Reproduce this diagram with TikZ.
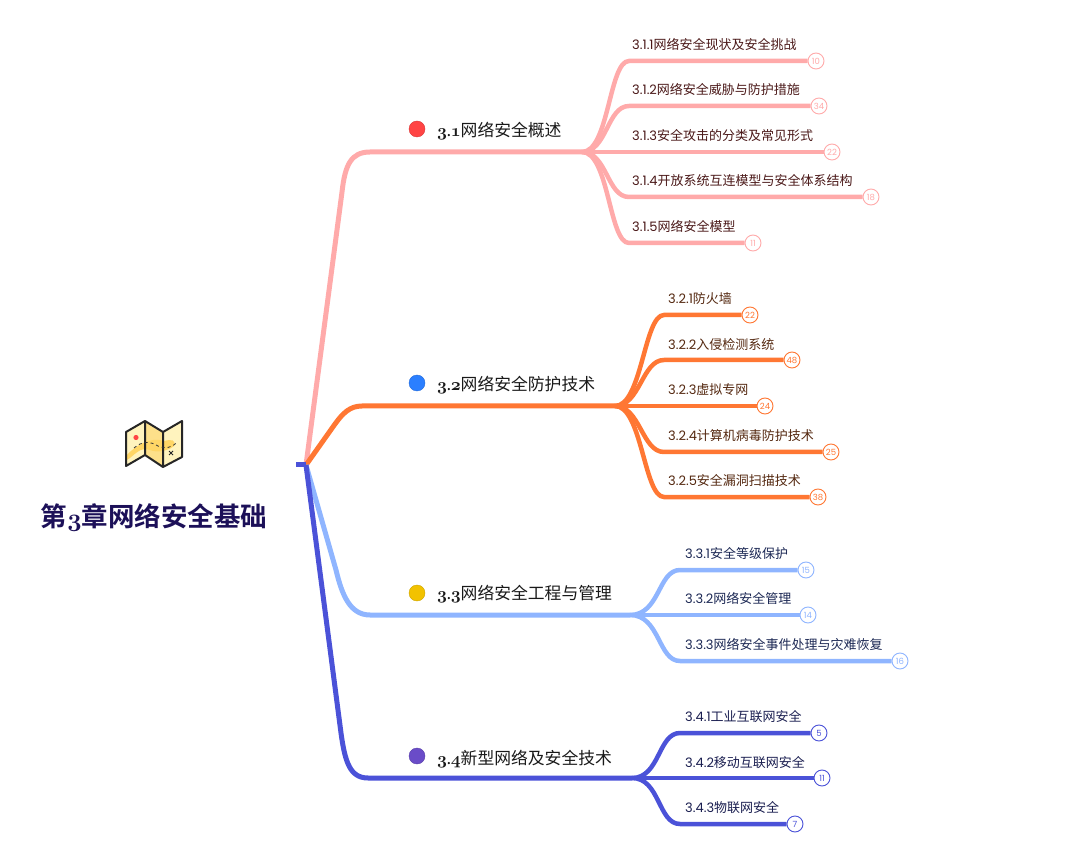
\documentclass[tikz,border=0pt]{standalone}
\usepackage{fontspec}
\setmainfont[BoldFont=Noto Sans CJK SC Bold]{Noto Sans CJK SC}
\newfontfamily\numfont{Poppins}
\definecolor{pinkbr}{HTML}{FFAAAA}
\definecolor{orangebr}{HTML}{FF7733}
\definecolor{bluebr}{HTML}{8FB5FF}
\definecolor{darkbr}{HTML}{4B52D8}
\definecolor{dotred}{HTML}{FF4444}
\definecolor{dotblue}{HTML}{2B7FFF}
\definecolor{dotyellow}{HTML}{F2C200}
\definecolor{dotpurple}{HTML}{6A4CC8}
\definecolor{titleink}{HTML}{1C1058}
\definecolor{pinkink}{HTML}{4A1818}
\definecolor{orangeink}{HTML}{542810}
\definecolor{blueink}{HTML}{1C2854}
\definecolor{darkink}{HTML}{1A1E50}
\definecolor{mappale}{HTML}{FFF3BE}
\definecolor{mapmid}{HTML}{FDE08A}
\definecolor{mapblob}{HTML}{FFD666}
\tikzset{
    secline/.style={line width=5pt, line join=round},
    leafline/.style={line width=4.5pt},
    sectext/.style={anchor=west, inner sep=0pt, yshift=-1.2pt, font=\fontsize{16.8}{18}\selectfont, text=black!90},
    leaftext/.style={anchor=west, inner sep=0pt, yshift=-0.7pt, font=\fontsize{13}{15}\selectfont},
    count/.style={circle, draw=#1, fill=white, line width=0.9pt, minimum size=16pt, inner sep=0pt, text=#1, font=\numfont\fontsize{8.5}{10}\selectfont},
    dot/.style={circle, fill=#1, draw=#1!85!black, line width=0.4pt, minimum size=16pt, inner sep=0pt},
}
\newcommand{\oldb}[1]{{\usefont{OML}{cmm}{b}{it}#1}}
\newcommand{\oldn}[2]{\oldb{#1}\kern-0.5pt.\kern-0.5pt\oldb{#2}}
\begin{document}
\begin{tikzpicture}[x=1pt, y=-1pt]
    \useasboundingbox (0,0) rectangle (1082,858);
    % map icon
    \fill[mappale] (126,432) -- (145,421) -- (163,432) -- (182,421) -- (182,457) -- (163,467) -- (145,455) -- (126,466) -- cycle;
    \fill[mapmid] (145,421) -- (163,432) -- (163,467) -- (145,455) -- cycle;
    \fill[mapblob] (127,455) .. controls (134,447) and (150,436) .. (164,441) .. controls (172,439) and (176,440) .. (174,446) .. controls (168,451) and (157,453) .. (150,450) .. controls (140,446) and (134,456) .. (127,460) -- cycle;
    \draw[line width=2pt, black!85, line join=round] (126,432) -- (145,421) -- (163,432) -- (182,421) -- (182,457) -- (163,467) -- (145,455) -- (126,466) -- cycle (145,421) -- (145,455) (163,432) -- (163,467);
    \fill[dotred] (136,437.5) circle (2.6pt);
    \draw[black!80, line width=0.8pt, dashed] (134,448) .. controls (142,441) and (150,441) .. (158,446) .. controls (165,449) and (172,448) .. (177,442);
    \draw[black!85, line width=1pt] (169,451) -- (173,455) (173,451) -- (169,455);
    \node[anchor=center, inner sep=0pt, font=\bfseries\fontsize{26.5}{28}\selectfont, text=titleink] (title) at (154,517) {第\oldb{3}章网络安全基础};

    % root and sections
    \coordinate (root) at (306,465);
    \coordinate (rootl) at (296,465);
    \coordinate (hub1) at (582,152);
    \coordinate (hub2) at (615,406);
    \coordinate (hub3) at (630,615);
    \coordinate (hub4) at (632,778);
    \draw[secline, pinkbr] (root) -- (342,192) .. controls (345,165) and (351,152) .. (370,152) -- (hub1);
    \draw[secline, orangebr] (root) -- (335,424) .. controls (343,413) and (350,406) .. (362,406) -- (hub2);
    \draw[secline, bluebr] (root) -- (336,570) .. controls (342,595) and (350,615) .. (370,615) -- (hub3);
    \draw[secline, darkbr] (root) -- (341,733) .. controls (345,762) and (350,778) .. (368,778) -- (hub4);
    \draw[line width=5pt, darkbr] (rootl) -- (root);

    \node[dot=dotred] (dot1) at (417,129) {};
    \node[dot=dotblue] (dot2) at (417,383) {};
    \node[dot=dotyellow] (dot3) at (417,593) {};
    \node[dot=dotpurple] (dot4) at (417,756) {};
    \node[sectext] (sec1) at (437,130) {\oldn{3}{1}网络安全概述};
    \node[sectext] (sec2) at (437,384) {\oldn{3}{2}网络安全防护技术};
    \node[sectext] (sec3) at (437,593) {\oldn{3}{3}网络安全工程与管理};
    \node[sectext] (sec4) at (437,758) {\oldn{3}{4}新型网络及安全技术};

    % 3.1
    \node[count=pinkbr] (n311) at (816,61) {10};
    \node[count=pinkbr] (n312) at (819,106) {34};
    \node[count=pinkbr] (n313) at (832,152) {22};
    \node[count=pinkbr] (n314) at (871,197) {18};
    \node[count=pinkbr] (n315) at (753,243) {11};
    \draw[leafline, pinkbr] (hub1) .. controls (609,152) and (609,61) .. (629,61) -- (n311);
    \draw[leafline, pinkbr] (hub1) .. controls (607,152) and (607,106) .. (629,106) -- (n312);
    \draw[leafline, pinkbr] (hub1) -- (n313);
    \draw[leafline, pinkbr] (hub1) .. controls (607,152) and (607,197) .. (629,197) -- (n314);
    \draw[leafline, pinkbr] (hub1) .. controls (609,152) and (609,243) .. (629,243) -- (n315);
    \node[leaftext, text=pinkink] (t311) at (632,44) {{\numfont 3.1.1}网络安全现状及安全挑战};
    \node[leaftext, text=pinkink] (t312) at (632,89) {{\numfont 3.1.2}网络安全威胁与防护措施};
    \node[leaftext, text=pinkink] (t313) at (632,135) {{\numfont 3.1.3}安全攻击的分类及常见形式};
    \node[leaftext, text=pinkink] (t314) at (632,180) {{\numfont 3.1.4}开放系统互连模型与安全体系结构};
    \node[leaftext, text=pinkink] (t315) at (632,226) {{\numfont 3.1.5}网络安全模型};

    % 3.2
    \node[count=orangebr] (n321) at (750,315) {22};
    \node[count=orangebr] (n322) at (792,360) {48};
    \node[count=orangebr] (n323) at (765,406) {24};
    \node[count=orangebr] (n324) at (831,452) {25};
    \node[count=orangebr] (n325) at (818,497) {38};
    \draw[leafline, orangebr] (hub2) .. controls (642,406) and (644,315) .. (664,315) -- (n321);
    \draw[leafline, orangebr] (hub2) .. controls (640,406) and (642,360) .. (664,360) -- (n322);
    \draw[leafline, orangebr] (hub2) -- (n323);
    \draw[leafline, orangebr] (hub2) .. controls (640,406) and (642,452) .. (664,452) -- (n324);
    \draw[leafline, orangebr] (hub2) .. controls (642,406) and (644,497) .. (664,497) -- (n325);
    \node[leaftext, text=orangeink] (t321) at (668,298) {{\numfont 3.2.1}防火墙};
    \node[leaftext, text=orangeink] (t322) at (668,344) {{\numfont 3.2.2}入侵检测系统};
    \node[leaftext, text=orangeink] (t323) at (668,389) {{\numfont 3.2.3}虚拟专网};
    \node[leaftext, text=orangeink] (t324) at (668,435) {{\numfont 3.2.4}计算机病毒防护技术};
    \node[leaftext, text=orangeink] (t325) at (668,480) {{\numfont 3.2.5}安全漏洞扫描技术};

    % 3.3
    \node[count=bluebr] (n331) at (806,570) {15};
    \node[count=bluebr] (n332) at (808,615) {14};
    \node[count=bluebr] (n333) at (900,661) {16};
    \draw[leafline, bluebr] (hub3) .. controls (660,615) and (658,570) .. (680,570) -- (n331);
    \draw[leafline, bluebr] (hub3) -- (n332);
    \draw[leafline, bluebr] (hub3) .. controls (660,615) and (658,661) .. (680,661) -- (n333);
    \node[leaftext, text=blueink] (t331) at (685,553) {{\numfont 3.3.1}安全等级保护};
    \node[leaftext, text=blueink] (t332) at (685,598) {{\numfont 3.3.2}网络安全管理};
    \node[leaftext, text=blueink] (t333) at (685,644) {{\numfont 3.3.3}网络安全事件处理与灾难恢复};

    % 3.4
    \node[count=darkbr] (n341) at (819,733) {5};
    \node[count=darkbr] (n342) at (822,778) {11};
    \node[count=darkbr] (n343) at (795,824) {7};
    \draw[leafline, darkbr] (hub4) .. controls (660,778) and (658,733) .. (680,733) -- (n341);
    \draw[leafline, darkbr] (hub4) -- (n342);
    \draw[leafline, darkbr] (hub4) .. controls (660,778) and (658,824) .. (680,824) -- (n343);
    \node[leaftext, text=darkink] (t341) at (685,716) {{\numfont 3.4.1}工业互联网安全};
    \node[leaftext, text=darkink] (t342) at (685,762) {{\numfont 3.4.2}移动互联网安全};
    \node[leaftext, text=darkink] (t343) at (685,807) {{\numfont 3.4.3}物联网安全};
\end{tikzpicture}
\end{document}
